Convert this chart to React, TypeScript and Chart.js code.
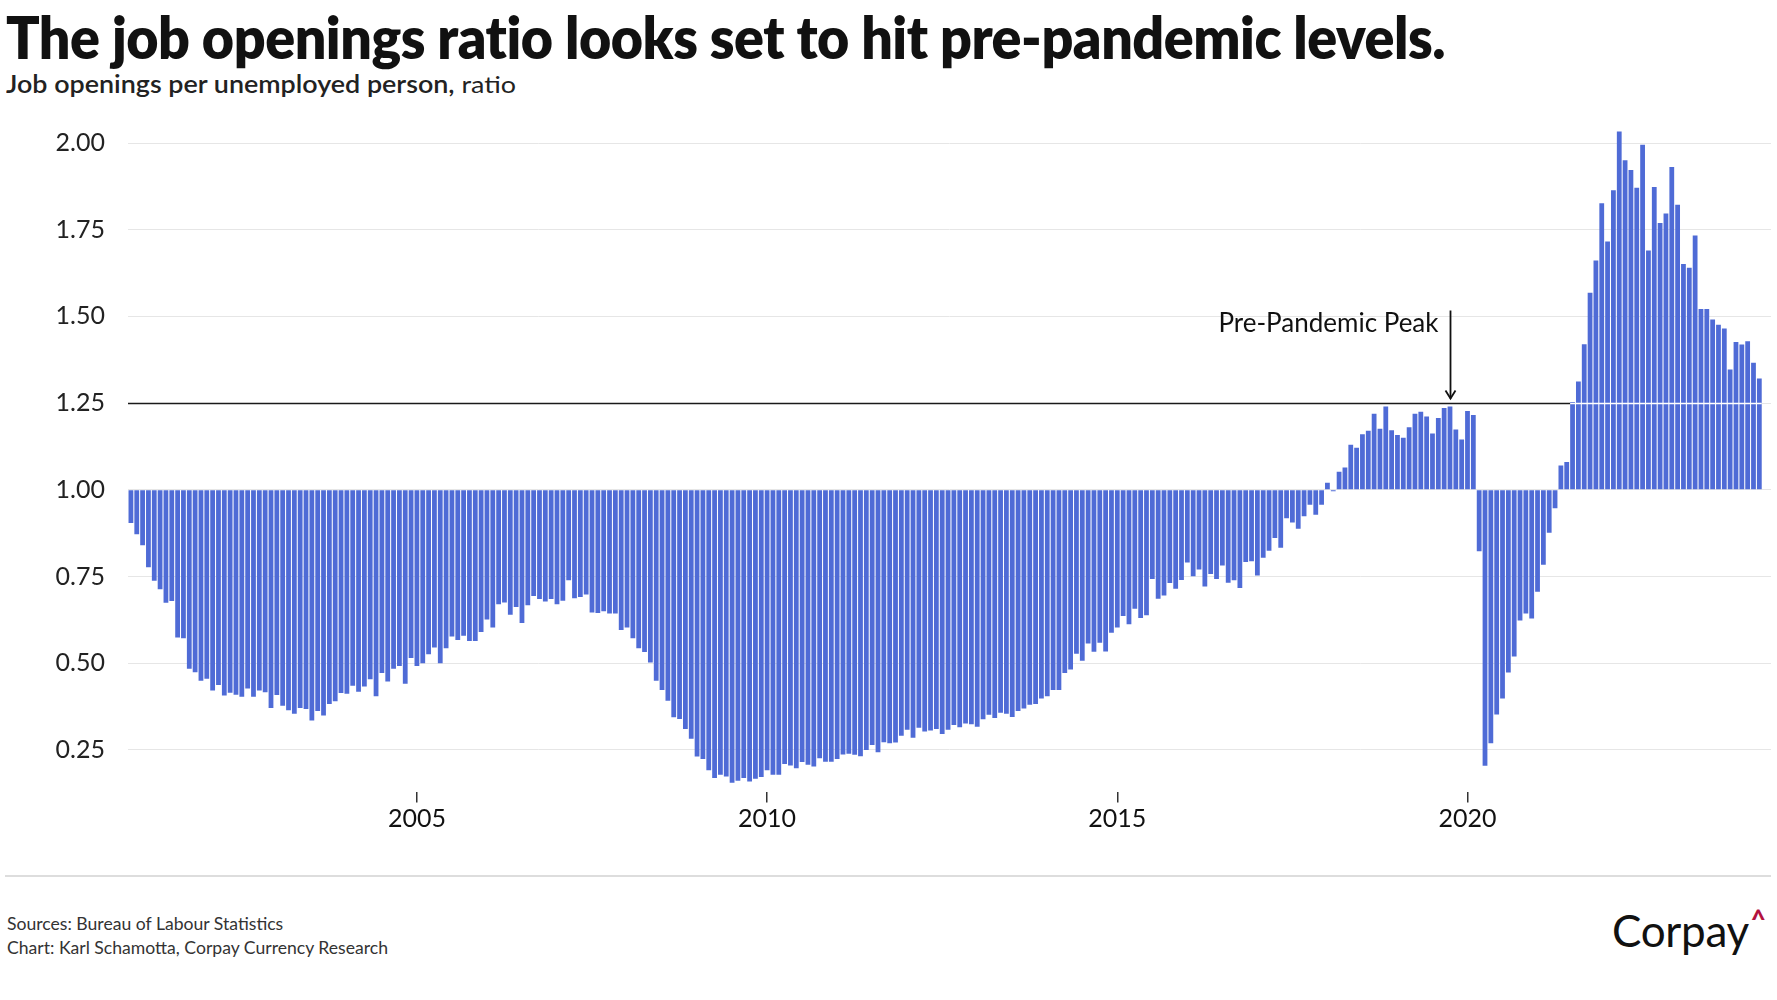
import React, { useEffect, useLayoutEffect, useRef } from 'react';
import { Chart, registerables } from 'chart.js';

Chart.register(...registerables);

// ---------- data (job openings per unemployed person, monthly) ----------
const FIRST_YEAR = 2000;
const FIRST_MONTH = 12; // series starts Dec 2000

const y2000 = [0.904];
const y2001 = [0.872, 0.840, 0.777, 0.738, 0.713, 0.674, 0.679, 0.574, 0.572, 0.484, 0.474, 0.449];
const y2002 = [0.455, 0.421, 0.437, 0.407, 0.415, 0.409, 0.403, 0.427, 0.403, 0.421, 0.416, 0.371];
const y2003 = [0.408, 0.377, 0.364, 0.354, 0.371, 0.368, 0.335, 0.362, 0.349, 0.382, 0.390, 0.414];
const y2004 = [0.412, 0.435, 0.418, 0.433, 0.454, 0.405, 0.472, 0.447, 0.484, 0.492, 0.441, 0.515];
const y2005 = [0.492, 0.500, 0.526, 0.545, 0.500, 0.543, 0.577, 0.567, 0.579, 0.564, 0.564, 0.590];
const y2006 = [0.626, 0.603, 0.670, 0.675, 0.640, 0.662, 0.616, 0.667, 0.694, 0.685, 0.678, 0.685];
const y2007 = [0.670, 0.680, 0.739, 0.687, 0.691, 0.698, 0.646, 0.645, 0.650, 0.643, 0.643, 0.596];
const y2008 = [0.603, 0.572, 0.543, 0.532, 0.502, 0.449, 0.423, 0.392, 0.344, 0.339, 0.310, 0.282];
const y2009 = [0.231, 0.224, 0.191, 0.169, 0.178, 0.173, 0.155, 0.161, 0.169, 0.159, 0.167, 0.172];
const y2010 = [0.191, 0.178, 0.178, 0.209, 0.205, 0.197, 0.215, 0.207, 0.202, 0.226, 0.216, 0.216];
const y2011 = [0.224, 0.237, 0.239, 0.236, 0.232, 0.250, 0.264, 0.243, 0.272, 0.269, 0.271, 0.291];
const y2012 = [0.308, 0.285, 0.314, 0.303, 0.306, 0.310, 0.296, 0.308, 0.322, 0.315, 0.326, 0.324];
const y2013 = [0.317, 0.338, 0.351, 0.342, 0.357, 0.354, 0.345, 0.362, 0.369, 0.380, 0.382, 0.398];
const y2014 = [0.405, 0.423, 0.423, 0.472, 0.482, 0.527, 0.507, 0.557, 0.533, 0.559, 0.534, 0.588];
const y2015 = [0.603, 0.636, 0.612, 0.657, 0.630, 0.638, 0.743, 0.686, 0.695, 0.731, 0.715, 0.740];
const y2016 = [0.790, 0.751, 0.770, 0.721, 0.757, 0.743, 0.782, 0.732, 0.739, 0.717, 0.792, 0.794];
const y2017 = [0.753, 0.804, 0.824, 0.861, 0.833, 0.918, 0.906, 0.888, 0.924, 0.957, 0.928, 0.957];
const y2018 = [1.020, 0.996, 1.052, 1.064, 1.130, 1.121, 1.160, 1.170, 1.219, 1.176, 1.240, 1.172];
const y2019 = [1.158, 1.150, 1.180, 1.219, 1.225, 1.211, 1.162, 1.207, 1.236, 1.240, 1.174, 1.145];
const y2020 = [1.227, 1.216, 0.823, 0.204, 0.269, 0.352, 0.398, 0.473, 0.519, 0.623, 0.643, 0.629];
const y2021 = [0.706, 0.784, 0.876, 0.947, 1.070, 1.080, 1.253, 1.312, 1.420, 1.568, 1.661, 1.826];
const y2022 = [1.716, 1.864, 2.033, 1.950, 1.922, 1.871, 1.995, 1.690, 1.873, 1.769, 1.797, 1.931];
const y2023 = [1.822, 1.651, 1.640, 1.733, 1.521, 1.521, 1.491, 1.476, 1.465, 1.347, 1.426, 1.419];
const y2024 = [1.428, 1.366, 1.321];

const ratio = [
  ...y2000, ...y2001, ...y2002, ...y2003, ...y2004, ...y2005, ...y2006, ...y2007, ...y2008,
  ...y2009, ...y2010, ...y2011, ...y2012, ...y2013, ...y2014, ...y2015, ...y2016, ...y2017,
  ...y2018, ...y2019, ...y2020, ...y2021, ...y2022, ...y2023, ...y2024,
];

const months = ratio.map((_, i) => {
  const m = FIRST_MONTH - 1 + i;
  const yr = FIRST_YEAR + Math.floor(m / 12);
  const mo = (m % 12) + 1;
  return `${yr}-${String(mo).padStart(2, '0')}`;
});

const xTickYears = ['2005', '2010', '2015', '2020'];
const yTicks = [0.25, 0.5, 0.75, 1.0, 1.25, 1.5, 1.75, 2.0];

const BASE_LEVEL = 1.0;
const REF_LEVEL = 1.25;
const PEAK_MONTH = '2019-10';
const PEAK_TEXT = 'Pre-Pandemic Peak';
const ARROW_TOP = 1.517;

const TITLE = 'The job openings ratio looks set to hit pre-pandemic levels.';
const SUBTITLE_BOLD = 'Job openings per unemployed person,';
const SUBTITLE_REST = ' ratio';
const SOURCE_1 = 'Sources: Bureau of Labour Statistics';
const SOURCE_2 = 'Chart: Karl Schamotta, Corpay Currency Research';

const BAR_COLOR = '#4f6bd6';
const FONT = 'Lato, "Noto Sans", sans-serif';

const refLinePlugin = {
  id: 'refLine',
  afterDatasetsDraw(chart: any) {
    const { ctx, chartArea, scales } = chart;
    const y = scales.y;
    const meta = chart.getDatasetMeta(0);
    const yPx = Math.round(y.getPixelForValue(REF_LEVEL)) + 0.5;

    let k = ratio.length;
    while (k > 0 && ratio[k - 1] > REF_LEVEL) k--;
    const first = meta.data[k];
    const last = meta.data[ratio.length - 1];
    const splitX = first.x - first.width / 2;
    const endX = last.x + last.width / 2;

    ctx.save();
    ctx.lineWidth = 1.6;
    ctx.strokeStyle = '#1a1a1a';
    ctx.beginPath();
    ctx.moveTo(chartArea.left, yPx);
    ctx.lineTo(splitX, yPx);
    ctx.stroke();
    ctx.strokeStyle = '#ffffff';
    ctx.beginPath();
    ctx.moveTo(splitX, yPx);
    ctx.lineTo(endX, yPx);
    ctx.stroke();

    // arrow + label
    const pi = months.indexOf(PEAK_MONTH);
    const ax = Math.round(meta.data[pi].x) + 0.5;
    const topY = y.getPixelForValue(ARROW_TOP);
    const tipY = yPx - 5;
    ctx.strokeStyle = '#111';
    ctx.lineWidth = 1.8;
    ctx.beginPath();
    ctx.moveTo(ax, topY);
    ctx.lineTo(ax, tipY);
    ctx.stroke();
    ctx.beginPath();
    ctx.moveTo(ax - 5, tipY - 8);
    ctx.lineTo(ax, tipY);
    ctx.lineTo(ax + 5, tipY - 8);
    ctx.stroke();

    ctx.fillStyle = '#111';
    ctx.font = `26px ${FONT}`;
    ctx.textAlign = 'right';
    ctx.textBaseline = 'alphabetic';
    ctx.fillText(PEAK_TEXT, ax - 12, topY + 21);
    ctx.restore();
  },
};

function fitWidth(el: HTMLElement | null, target: number) {
  if (!el) return;
  el.style.transform = 'none';
  const w = el.getBoundingClientRect().width;
  if (w > 0) el.style.transform = `scaleX(${target / w})`;
}

export default function App() {
  const canvasRef = useRef<HTMLCanvasElement | null>(null);
  const titleRef = useRef<HTMLSpanElement | null>(null);
  const subRef = useRef<HTMLSpanElement | null>(null);

  useLayoutEffect(() => {
    document.body.style.margin = '0';
    document.body.style.background = '#ffffff';
    const fit = () => {
      fitWidth(titleRef.current, 1439);
      fitWidth(subRef.current, 510);
    };
    fit();
    (document as any).fonts?.ready?.then(fit);
  }, []);

  useEffect(() => {
    if (!canvasRef.current) return;
    const chart = new Chart(canvasRef.current, {
      type: 'bar',
      data: {
        datasets: [
          {
            data: ratio.map((v, i) => ({ x: i, y: v })),
            base: BASE_LEVEL,
            backgroundColor: BAR_COLOR,
            borderWidth: 0,
            barPercentage: 0.82,
            categoryPercentage: 1.0,
          } as any,
        ],
      },
      options: {
        animation: false,
        responsive: false,
        maintainAspectRatio: false,
        layout: { padding: { top: 22.2, right: 6, left: 0, bottom: 0 } },
        plugins: { legend: { display: false }, tooltip: { enabled: false } },
        scales: {
          x: {
            type: 'linear',
            offset: false,
            min: -0.5,
            max: 281,
            afterBuildTicks: (s: any) => {
              s.ticks = xTickYears.map((yr) => ({ value: months.indexOf(`${yr}-01`) }));
            },
            afterFit: (s: any) => {
              s.height = 68.5;
              s.paddingLeft = 0;
              s.paddingRight = 0;
            },
            ticks: {
              autoSkip: false,
              maxRotation: 0,
              padding: 1,
              color: '#111',
              font: { family: FONT, size: 25 },
              callback: (v: any) => (months[v] ? months[v].slice(0, 4) : ''),
            },
            grid: {
              offset: false,
              drawOnChartArea: false,
              drawTicks: true,
              tickLength: 11,
              color: '#333',
              lineWidth: 1.5,
            },
            border: { display: false },
          },
          y: {
            type: 'linear',
            min: 0.13,
            max: 2.06,
            afterBuildTicks: (s: any) => {
              s.ticks = yTicks.map((v) => ({ value: v }));
            },
            afterFit: (s: any) => {
              s.width = 128;
              s.paddingTop = 0;
              s.paddingBottom = 0;
            },
            ticks: {
              padding: 23,
              color: '#222',
              font: { family: FONT, size: 25 },
              callback: (v: any) => Number(v).toFixed(2),
            },
            grid: { color: '#e6e6e6', lineWidth: 1, drawTicks: false },
            border: { display: false },
          },
        },
      } as any,
      plugins: [refLinePlugin],
    });
    return () => chart.destroy();
  }, []);

  return (
    <div style={{ position: 'relative', width: 1777, height: 1000, background: '#fff', overflow: 'hidden', fontFamily: FONT }}>
      <div style={{ position: 'absolute', left: 6, top: 7.6, whiteSpace: 'nowrap', lineHeight: 1 }}>
        <span
          ref={titleRef}
          style={{ display: 'inline-block', transformOrigin: 'left top', fontSize: 58, fontWeight: 800, color: '#111', letterSpacing: -0.5 }}
        >
          {TITLE}
        </span>
      </div>
      <div style={{ position: 'absolute', left: 6, top: 72, whiteSpace: 'nowrap', lineHeight: 1 }}>
        <span ref={subRef} style={{ display: 'inline-block', transformOrigin: 'left top', fontSize: 24, color: '#222' }}>
          <span style={{ fontWeight: 600 }}>{SUBTITLE_BOLD}</span>
          <span style={{ fontWeight: 400 }}>{SUBTITLE_REST}</span>
        </span>
      </div>
      <canvas ref={canvasRef} width={1777} height={760} style={{ position: 'absolute', left: 0, top: 100, width: 1777, height: 760 }} />
      <div style={{ position: 'absolute', left: 5, top: 875, width: 1766, height: 2, background: '#dddddd' }} />
      <div style={{ position: 'absolute', left: 7, top: 915, fontSize: 17.6, lineHeight: 1, color: '#333', whiteSpace: 'nowrap' }}>{SOURCE_1}</div>
      <div style={{ position: 'absolute', left: 7, top: 939, fontSize: 17.6, lineHeight: 1, color: '#333', whiteSpace: 'nowrap' }}>{SOURCE_2}</div>
      <div style={{ position: 'absolute', left: 1612, top: 908, fontSize: 44, lineHeight: 1, color: '#111', whiteSpace: 'nowrap', fontWeight: 400, letterSpacing: -0.3 }}>
        Corpay
        <span style={{ color: '#b3123f', fontSize: 26, fontWeight: 900, verticalAlign: 'top', marginLeft: 2, position: 'relative', top: -2 }}>^</span>
      </div>
    </div>
  );
}
